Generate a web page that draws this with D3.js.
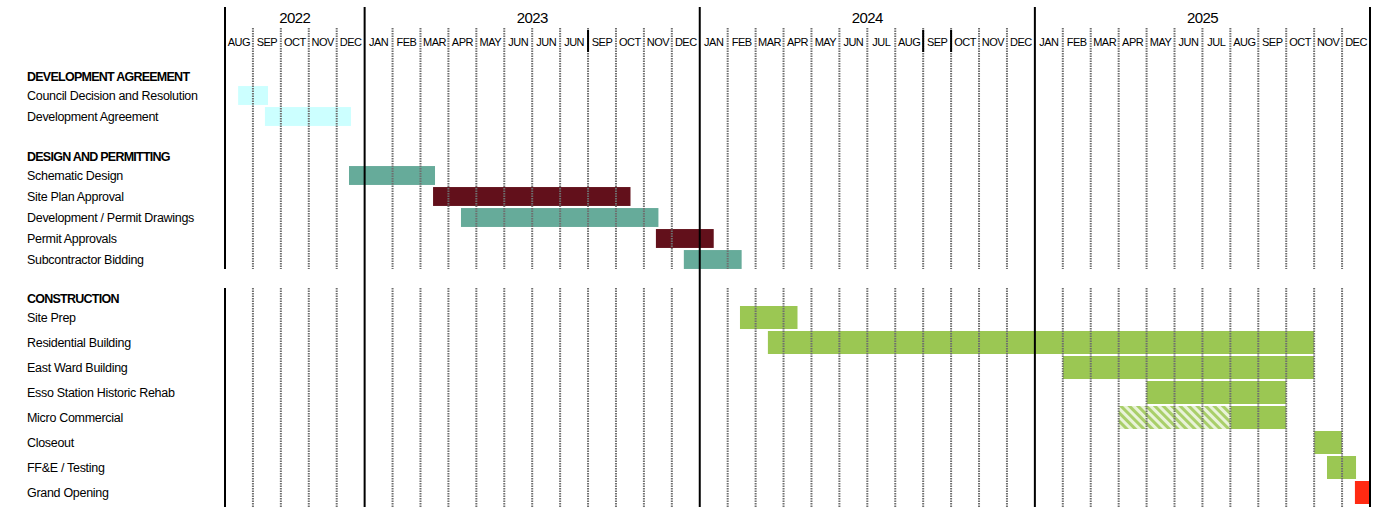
<!DOCTYPE html>
<html>
<head>
<meta charset="utf-8">
<script src="https://cdn.jsdelivr.net/npm/d3@7"></script>
<style>
  body { margin: 0; background: #fff; }
  svg { display: block; font-family: "Liberation Sans", Arial, sans-serif; }
</style>
</head>
<body>
<div id="chart"></div>
<script>
// timeline: months counted from Aug 2022 (0) to end of Dec 2025 (41)
const years = ['2022', '2023', '2024', '2025'];
const yearStart = [0, 5, 17, 29];
const yearEnd = [5, 17, 29, 41];
const monthLabels = [
    'AUG', 'SEP', 'OCT', 'NOV', 'DEC',
    'JAN', 'FEB', 'MAR', 'APR', 'MAY', 'JUN', 'JUN', 'JUN', 'SEP', 'OCT', 'NOV', 'DEC',
    'JAN', 'FEB', 'MAR', 'APR', 'MAY', 'JUN', 'JUL', 'AUG', 'SEP', 'OCT', 'NOV', 'DEC',
    'JAN', 'FEB', 'MAR', 'APR', 'MAY', 'JUN', 'JUL', 'AUG', 'SEP', 'OCT', 'NOV', 'DEC'
];
const heavyBreaks = [13, 25, 26];  // darker separators in the month header

const sections = ['DEVELOPMENT AGREEMENT', 'DESIGN AND PERMITTING', 'CONSTRUCTION'];

const agreementTasks = ['Council Decision and Resolution', 'Development Agreement'];
const agreementStart = [0.47, 1.43];
const agreementEnd = [1.54, 4.51];
const agreementColor = ['#ccffff', '#ccffff'];

const designTasks = ['Schematic Design', 'Site Plan Approval', 'Development / Permit Drawings',
    'Permit Approvals', 'Subcontractor Bidding'];
const designStart = [4.44, 7.45, 8.45, 15.43, 16.43];
const designEnd = [7.52, 14.52, 15.52, 17.5, 18.5];
const designColor = ['#66ab9a', '#62101b', '#66ab9a', '#62101b', '#66ab9a'];

const buildTasks = ['Site Prep', 'Residential Building', 'East Ward Building', 'Esso Station Historic Rehab',
    'Micro Commercial', 'Closeout', 'FF&E / Testing', 'Grand Opening'];
const buildStart = [18.44, 19.44, 30, 33, 36, 39, 39.46, 40.46];
const buildEnd = [20.5, 39, 39, 38, 38, 40, 40.5, 41];
const buildColor = ['#9bc753', '#9bc753', '#9bc753', '#9bc753', '#9bc753', '#9bc753', '#9bc753', '#ff2a12'];
// tentative span drawn hatched
const hatchTask = 'Micro Commercial';
const hatchStart = 32;
const hatchEnd = 36;

const width = 1385, height = 507;

const svg = d3.select('#chart').append('svg')
    .attr('width', width)
    .attr('height', height);

const defs = svg.append('defs');
const pat = defs.append('pattern')
    .attr('id', 'hatch')
    .attr('patternUnits', 'userSpaceOnUse')
    .attr('width', 6).attr('height', 6)
    .attr('patternTransform', 'rotate(-45)');
pat.append('rect').attr('width', 6).attr('height', 6).attr('fill', '#e9f3d9');
pat.append('rect').attr('width', 3).attr('height', 6).attr('fill', '#a9cf6a');

const x = d3.scaleLinear().domain([0, 41]).range([225, 1370]);

const yAgree = d3.scaleBand().domain(agreementTasks).range([85, 127]).paddingInner(0.1).paddingOuter(0.05);
const yDesign = d3.scaleBand().domain(designTasks).range([165, 270]).paddingInner(0.1).paddingOuter(0.05);
const yBuild = d3.scaleBand().domain(buildTasks).range([305, 505]).paddingInner(0.08).paddingOuter(0.04);

const upper = [28, 269];
const lower = [288, 507];

// BARS
function drawBars(names, starts, ends, colors, y) {
    const rows = names.map((n, i) => ({ name: n, start: starts[i], end: ends[i], color: colors[i] }));
    svg.append('g').selectAll('rect')
        .data(rows)
        .join('rect')
        .attr('x', d => x(d.start))
        .attr('width', d => x(d.end) - x(d.start))
        .attr('y', d => y(d.name))
        .attr('height', y.bandwidth())
        .attr('fill', d => d.color);

    svg.append('g').selectAll('text')
        .data(rows)
        .join('text')
        .attr('x', 27)
        .attr('y', d => y(d.name) + y.bandwidth() / 2 + 0.5)
        .attr('dy', '0.35em')
        .style('font-size', '12.5px')
        .style('letter-spacing', '-0.3px')
        .attr('fill', '#000')
        .text(d => d.name);
}

drawBars(agreementTasks, agreementStart, agreementEnd, agreementColor, yAgree);
drawBars(designTasks, designStart, designEnd, designColor, yDesign);
drawBars(buildTasks, buildStart, buildEnd, buildColor, yBuild);

svg.append('rect')
    .attr('x', x(hatchStart))
    .attr('width', x(hatchEnd) - x(hatchStart))
    .attr('y', yBuild(hatchTask))
    .attr('height', yBuild.bandwidth())
    .attr('fill', 'url(#hatch)');

// SECTION HEADERS
const headerY = [76, 156, 298];
svg.append('g').selectAll('text')
    .data(sections)
    .join('text')
    .attr('x', 27)
    .attr('y', (d, i) => headerY[i] + 0.5)
    .attr('dy', '0.35em')
    .style('font-size', '12.5px')
    .style('font-weight', 'bold')
    .style('letter-spacing', '-0.75px')
    .text(d => d);

// MONTH GRIDLINES
const monthBreaks = d3.range(1, 41).filter(m => !yearStart.includes(m));
const grid = svg.append('g');
[upper, lower].forEach(span => {
    grid.append('g').selectAll('line')
        .data(monthBreaks)
        .join('line')
        .attr('x1', d => x(d)).attr('x2', d => x(d))
        .attr('y1', span[0]).attr('y2', span[1])
        .attr('stroke', '#6e6e6e')
        .attr('stroke-width', 2)
        .attr('stroke-dasharray', '1.5,1');
});

grid.append('g').selectAll('line')
    .data(heavyBreaks)
    .join('line')
    .attr('x1', d => x(d)).attr('x2', d => x(d))
    .attr('y1', 30).attr('y2', 52)
    .attr('stroke', '#000')
    .attr('stroke-width', 2);

// YEAR LINES
const yearLines = yearStart.slice(1).concat([41]);
svg.append('g').selectAll('line')
    .data(yearLines)
    .join('line')
    .attr('x1', d => x(d)).attr('x2', d => x(d))
    .attr('y1', 7).attr('y2', lower[1])
    .attr('stroke', '#000')
    .attr('stroke-width', 2);

[[7, upper[1]], lower].forEach(span => {
    svg.append('line')
        .attr('x1', x(0)).attr('x2', x(0))
        .attr('y1', span[0]).attr('y2', span[1])
        .attr('stroke', '#000')
        .attr('stroke-width', 2);
});

// HEADER LABELS
svg.append('g').selectAll('text')
    .data(years)
    .join('text')
    .attr('x', (d, i) => (x(yearStart[i]) + x(yearEnd[i])) / 2)
    .attr('y', 18)
    .attr('dy', '0.35em')
    .attr('text-anchor', 'middle')
    .style('font-size', '15px')
    .style('letter-spacing', '-0.6px')
    .text(d => d);

svg.append('g').selectAll('text')
    .data(monthLabels)
    .join('text')
    .attr('x', (d, i) => x(i + 0.5))
    .attr('y', 42)
    .attr('dy', '0.35em')
    .attr('text-anchor', 'middle')
    .style('font-size', '11px')
    .style('letter-spacing', '-0.5px')
    .text(d => d);
</script>
</body>
</html>
